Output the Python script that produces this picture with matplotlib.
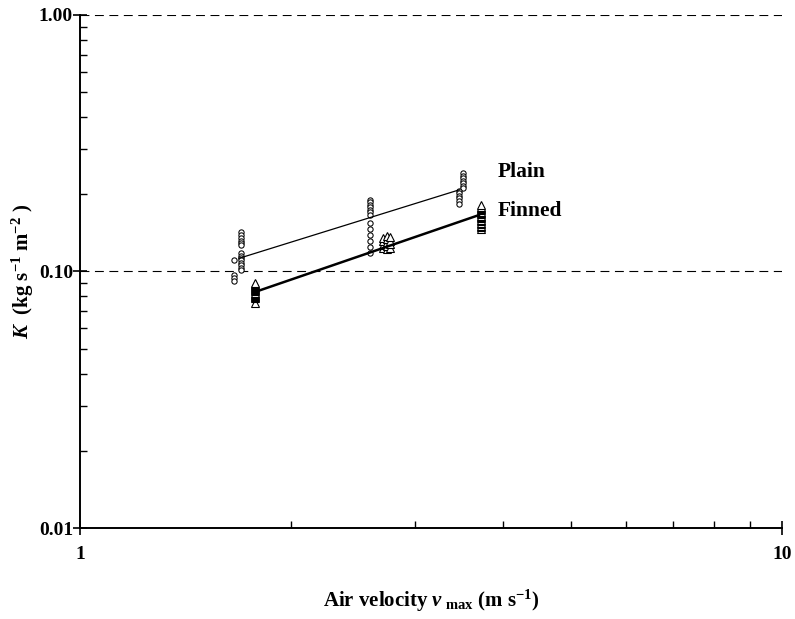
import numpy as np
import matplotlib
matplotlib.use("Agg")
import matplotlib.pyplot as plt
from matplotlib.ticker import NullFormatter, LogLocator

plt.rcParams['font.family'] = ['Liberation Serif', 'DejaVu Serif']
plt.rcParams['mathtext.fontset'] = 'custom'
plt.rcParams['mathtext.rm'] = 'Liberation Serif:bold'
plt.rcParams['mathtext.it'] = 'Liberation Serif:bold:italic'
plt.rcParams['mathtext.bf'] = 'Liberation Serif:bold'

# measured mass transfer coefficient K against air velocity
plain_v = [1.696] * 14 + [1.657] * 4 + [2.589] * 13 + [3.507] * 7 + [3.467] * 6
plain_k = [0.142, 0.139, 0.135, 0.132, 0.129, 0.1265, 0.118, 0.115, 0.113, 0.111,
           0.108, 0.106, 0.1035, 0.101,
           0.111, 0.097, 0.094, 0.0915,
           0.190, 0.186, 0.182, 0.178, 0.174, 0.170, 0.166, 0.154, 0.146, 0.139,
           0.131, 0.125, 0.118,
           0.2414, 0.2362, 0.231, 0.226, 0.2207, 0.216, 0.211,
           0.206, 0.202, 0.197, 0.193, 0.188, 0.183]

finned_v = [1.775] * 16 + [2.70] * 4 + [2.737] * 5 + [2.764] * 4 + [3.723] * 18
finned_k = [0.0755, 0.0790, 0.0797, 0.0805, 0.0812, 0.0820, 0.0828, 0.0836, 0.0844,
            0.0852, 0.0860, 0.0868, 0.0876, 0.0884, 0.0892, 0.0900,
            0.123, 0.127, 0.131, 0.135,
            0.122, 0.126, 0.130, 0.134, 0.137,
            0.124, 0.128, 0.132, 0.136,
            0.147, 0.149, 0.151, 0.153, 0.155, 0.157, 0.159, 0.161, 0.163, 0.165,
            0.167, 0.169, 0.171, 0.173, 0.175, 0.177, 0.179, 0.181]

# power-law fits K = a * v^b
plain_fit = (0.0722, 0.851)
plain_range = (1.685, 3.47)
finned_fit = (0.0485, 0.94)
finned_range = (1.775, 3.70)

fig = plt.figure(figsize=(7.95, 6.19), dpi=100)
ax = fig.add_axes([0.1006, 0.147, 0.883, 0.8288])

ax.plot(plain_v, plain_k, 'o', mfc='white', mec='black', ms=3.8, mew=0.75, zorder=3)
ax.plot(finned_v, finned_k, '^', mfc='white', mec='black', ms=5.2, mew=0.8, zorder=3)

xs = np.linspace(*plain_range, 50)
ax.plot(xs, plain_fit[0] * xs ** plain_fit[1], color='black', lw=0.9, zorder=4)
xs = np.linspace(*finned_range, 50)
ax.plot(xs, finned_fit[0] * xs ** finned_fit[1], color='black', lw=1.8, zorder=4)

ax.set_xscale('log')
ax.set_yscale('log')
ax.set_xlim(1, 10)
ax.set_ylim(0.01, 1)

ax.set_xticks([1, 10])
ax.set_xticklabels(['1', '10'])
ax.set_yticks([0.01, 0.1, 1])
ax.set_yticklabels(['0.01', '0.10', '1.00'])
ax.xaxis.set_minor_locator(LogLocator(base=10, subs=np.arange(2, 10)))
ax.yaxis.set_minor_locator(LogLocator(base=10, subs=np.arange(2, 10)))
ax.xaxis.set_minor_formatter(NullFormatter())
ax.yaxis.set_minor_formatter(NullFormatter())

ax.tick_params(which='major', direction='inout', length=10, width=1.2, labelsize=14)
ax.tick_params(which='minor', direction='in', length=5, width=1.0)
for lab in ax.get_xticklabels() + ax.get_yticklabels():
    lab.set_fontweight('bold')
ax.tick_params(axis='x', which='major', pad=8)
ax.tick_params(axis='y', which='major', pad=0)

for s in ['top', 'right']:
    ax.spines[s].set_visible(False)
for s in ['left', 'bottom']:
    ax.spines[s].set_linewidth(1.4)

for yv in [0.1, 1.0]:
    ax.axhline(yv, color='black', lw=0.8, ls=(0, (8, 5)), zorder=1)

ax.text(3.93, 0.245, 'Plain', fontsize=15.5, fontweight='bold', va='center')
ax.text(3.93, 0.172, 'Finned', fontsize=15.5, fontweight='bold', va='center')

ax.set_xlabel(r'Air velocity $\mathit{v}_{\ \mathrm{max}}$ (m s$^{\mathrm{-1}}$)',
              fontsize=15, fontweight='bold')
ax.xaxis.set_label_coords(0.5, -0.117)
ax.set_ylabel(r'$\mathit{K}$  (kg s$^{\mathrm{-1}}$ m$^{\mathrm{-2}}$ )',
              fontsize=15, fontweight='bold')
ax.yaxis.set_label_coords(-0.062, 0.5)

fig.savefig('out.png', dpi=100)
